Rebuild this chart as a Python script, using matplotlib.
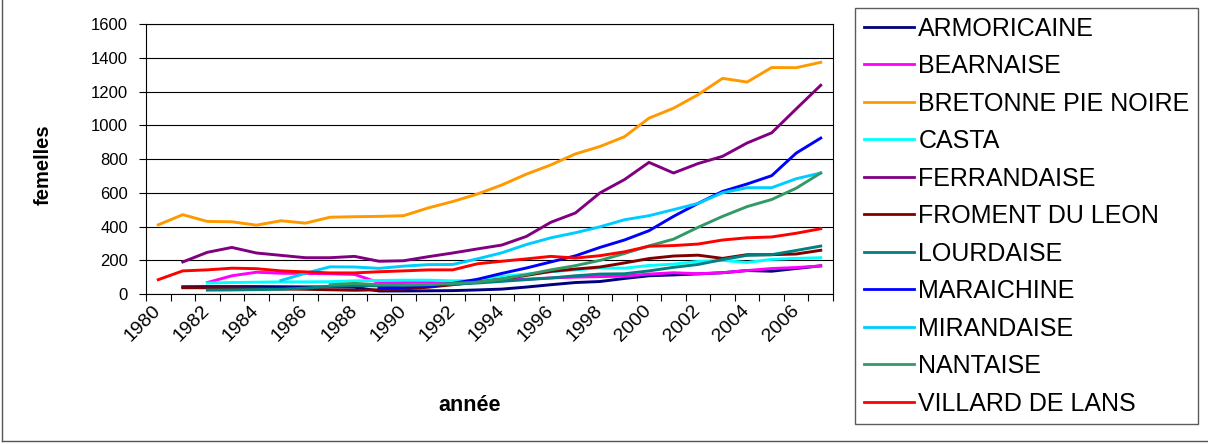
import numpy as np
import matplotlib
matplotlib.use('Agg')
import matplotlib.pyplot as plt
from matplotlib.lines import Line2D

nan = np.nan

# data (effectifs de femelles par race, 1980-2007)
years = list(range(1980, 2008))

armoricaine = [nan, 43, 44, 44, 44, 43, 42, 42, 40, 18, 18, 19, 20, 24, 29, 41, 55, 68,
               74, 92, 108, 113, 119, 126, 139, 135, 151, 167]
bearnaise = [nan, nan, 68, 108, 129, 123, 122, 120, 116, 67, 68, 70, 72, 75, 85, 88, 95, 100,
             103, 106, 118, 126, 120, 126, 139, 151, 157, 166]
bretonne = [410, 470, 430, 428, 408, 434, 420, 455, 458, 460, 464, 510, 548, 592, 646, 710,
            765, 830, 874, 932, 1042, 1101, 1181, 1278, 1256, 1342, 1341, 1373]
casta = [nan, nan, 65, 68, 70, 72, 72, 73, 78, 80, 82, 82, 78, 80, 104, 118, 132, 143,
         155, 153, 169, 177, 193, 199, 187, 205, 211, 215]
ferrandaise = [nan, 190, 247, 276, 243, 229, 215, 215, 223, 194, 197, 221, 243, 267, 290,
               341, 425, 480, 599, 678, 780, 717, 773, 816, 895, 955, 1097, 1237]
froment = [nan, 37, 37, 36, 34, 30, 28, 25, 22, 25, 30, 40, 55, 70, 88, 110, 134, 148,
           160, 184, 210, 225, 230, 211, 233, 233, 237, 259]
lourdaise = [nan, nan, 23, 24, 26, 28, 35, 45, 50, 48, 50, 53, 58, 65, 75, 85, 95, 108,
             118, 120, 137, 158, 175, 204, 229, 233, 258, 284]
maraichine = [nan, nan, nan, nan, nan, nan, nan, nan, nan, 34, 40, 47, 63, 87, 122, 154,
              190, 226, 276, 320, 375, 460, 537, 608, 652, 701, 835, 924]
mirandaise = [nan, nan, nan, nan, nan, 80, 123, 161, 160, 152, 165, 174, 175, 208, 244,
              293, 333, 363, 398, 440, 464, 500, 537, 600, 630, 630, 683, 717]
nantaise = [nan, nan, nan, nan, nan, nan, nan, 55, 63, 55, 52, 55, 62, 70, 88, 114, 143,
            168, 199, 240, 285, 325, 395, 460, 518, 560, 627, 717]
villard = [85, 137, 143, 153, 150, 137, 131, 125, 125, 132, 137, 143, 143, 179, 194, 208,
           223, 213, 227, 250, 283, 287, 296, 320, 333, 338, 360, 387]

names = ['ARMORICAINE', 'BEARNAISE', 'BRETONNE PIE NOIRE', 'CASTA', 'FERRANDAISE',
         'FROMENT DU LEON', 'LOURDAISE', 'MARAICHINE', 'MIRANDAISE', 'NANTAISE',
         'VILLARD DE LANS']
series = [armoricaine, bearnaise, bretonne, casta, ferrandaise, froment, lourdaise,
          maraichine, mirandaise, nantaise, villard]
colors = ['#000080', '#FF00FF', '#FF9900', '#00FFFF', '#800080', '#800000', '#008080',
          '#0000FF', '#00CCFF', '#339966', '#FF0000']

plt.rcParams['font.family'] = ['Liberation Sans', 'DejaVu Sans']

W, H = 1208, 444
fig = plt.figure(figsize=(W/100, H/100), dpi=100)
ax = fig.add_axes([146/W, 1-294/H, 687/W, 270/H])

x = np.arange(len(years))
for vals, name, c in zip(series, names, colors):
    ax.plot(x, vals, color=c, lw=2.1, label=name, solid_joinstyle='round')

# axes config (excel style)
ax.set_xlim(-0.5, len(years)-0.5)
ax.set_ylim(0, 1600)
ax.set_yticks(np.arange(0, 1601, 200))
ax.yaxis.grid(True, color='black', lw=0.8)
ax.set_axisbelow(True)
ax.set_xticks(x[::2])
ax.set_xticklabels([str(y) for y in years[::2]], rotation=45, ha='right', va='center',
                   rotation_mode='anchor')
ax.set_xticks(np.arange(-0.5, len(years)), minor=True)
ax.tick_params(axis='x', which='major', length=0, pad=10, labelsize=14)
ax.tick_params(axis='x', which='minor', length=5, width=0.8, direction='out')
ax.tick_params(axis='y', length=5, width=0.8, labelsize=12, pad=8)
for s in ax.spines.values():
    s.set_color('black')
    s.set_linewidth(0.8)

# axis titles
fig.text(43/W, 1-165/H, 'femelles', rotation=90, fontsize=14.5, fontweight='bold',
         ha='center', va='center')
fig.text(470/W, 1-405/H, 'année', fontsize=15.5, fontweight='bold', ha='center', va='center')

# legend
handles = [Line2D([], [], color=c, lw=2.0) for c in colors]
leg = fig.legend(handles, names, loc='upper left', bbox_to_anchor=(855/W, 1-8/H),
                 fontsize=18, frameon=True, fancybox=False, borderaxespad=0,
                 handlelength=2.0, handletextpad=0.18, labelspacing=0.54,
                 borderpad=0.35)
leg.get_frame().set_edgecolor('#333333')
leg.get_frame().set_linewidth(1.0)

# chart area border
fig.add_artist(Line2D([2/W, 2/W], [3/H, 1], color='#555555', lw=1.0,
                      transform=fig.transFigure))
fig.add_artist(Line2D([2/W, 1], [3/H, 3/H], color='#555555', lw=1.0,
                      transform=fig.transFigure))

fig.savefig('out.png', dpi=100)
